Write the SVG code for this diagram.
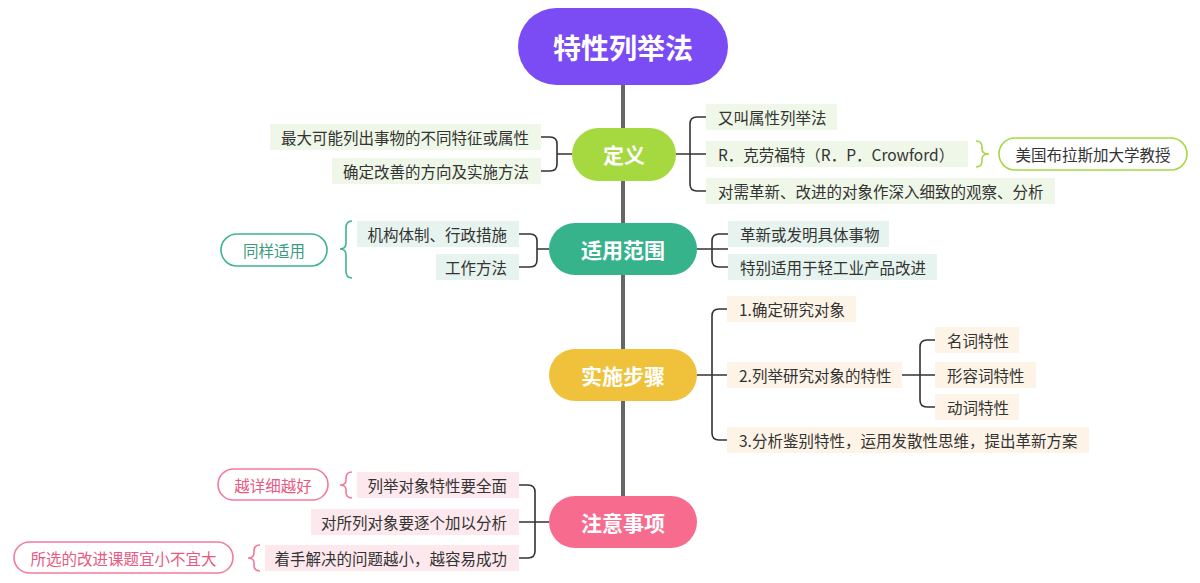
<svg xmlns="http://www.w3.org/2000/svg" width="1200" height="583" viewBox="0 0 1200 583">
<style>
text{font-family:"Noto Sans CJK SC","Noto Sans",sans-serif;}
.t{font-size:15.5px;fill:#333;dominant-baseline:central;}
.r{text-anchor:end;}
.n{font-size:21px;font-weight:bold;fill:#fff;text-anchor:middle;dominant-baseline:central;}
.c{fill:none;stroke:#333;stroke-width:1.6;}
.g{fill:#eff7e8;}
.tl{fill:#e6f3ee;}
.y{fill:#fdf4e7;}
.p{fill:#fde8ee;}
</style>
<rect width="1200" height="583" fill="#fff"/>
<g id="connectors">
<path d="M623,85 V522" stroke="#666" stroke-width="4" fill="none"/>
<path class="c" d="M541,137 H550 Q557,137 557,144 V164 Q557,171 550,171 H541 M557,154 H572"/>
<path class="c" d="M676,154 H706 M706,117 H697 Q690,117 690,124 V184 Q690,191 697,191 H706"/>
<path class="c" d="M519,234 H530 Q537,234 537,241 V260 Q537,267 530,267 H519 M537,249 H549"/>
<path class="c" d="M697,249 H728 M728,234 H719 Q712,234 712,241 V260 Q712,267 719,267 H728"/>
<path class="c" d="M697,375 H727 M727,309 H719 Q712,309 712,316 V433 Q712,440 719,440 H727"/>
<path class="c" d="M902,375 H935 M935,340 H927 Q920,340 920,347 V400 Q920,407 927,407 H935"/>
<path class="c" d="M519,485 H528 Q535,485 535,492 V551 Q535,558 528,558 H519 M519,522 H549"/>
<path fill="none" stroke="#a6d846" stroke-width="1.6" d="M976,141 Q982,141 982,147 V149 Q982,154 989,154 Q982,154 982,159 V161 Q982,167 976,167"/>
<path fill="none" stroke="#3cb58e" stroke-width="1.6" d="M352,221 Q346,221 346,228 V243 Q346,249 340,249 Q346,249 346,255 V271 Q346,278 352,278"/>
<path fill="none" stroke="#f37b9a" stroke-width="1.6" d="M352,472 Q346,472 346,478 V480 Q346,485 340,485 Q346,485 346,490 V492 Q346,498 352,498"/>
<path fill="none" stroke="#f37b9a" stroke-width="1.6" d="M260,545 Q254,545 254,551 V553 Q254,558 248,558 Q254,558 254,563 V565 Q254,571 260,571"/>
</g>
<g id="root">
<rect x="518" y="8" width="210" height="77" rx="38.5" fill="#7b4cf3"/>
<text x="623" y="47" class="n" style="font-size:28px">特性列举法</text>
</g>
<g id="dingyi">
<rect x="572" y="128" width="104" height="53" rx="26.5" fill="#a6d83f"/>
<text x="624" y="154" class="n">定义</text>
</g>
<g id="dy-l1"><rect x="270" y="124" width="271" height="26" class="g"/><text x="529" y="137" class="t r">最大可能列出事物的不同特征或属性</text></g>
<g id="dy-l2"><rect x="332" y="158" width="209" height="26" class="g"/><text x="529" y="171" class="t r">确定改善的方向及实施方法</text></g>
<g id="dy-r1"><rect x="706" y="104" width="131" height="26" class="g"/><text x="718" y="117" class="t">又叫属性列举法</text></g>
<g id="dy-r2"><rect x="706" y="141" width="262" height="26" class="g"/><text x="718" y="154" class="t">R．克劳福特（R．P．Crowford）</text></g>
<g id="dy-r3"><rect x="706" y="178" width="349" height="26" class="g"/><text x="718" y="191" class="t">对需革新、改进的对象作深入细致的观察、分析</text></g>
<g id="dy-note"><rect x="999" y="138" width="188" height="32" rx="16" fill="#fff" stroke="#a6d846" stroke-width="1.6"/><text x="1093" y="154" class="t" text-anchor="middle">美国布拉斯加大学教授</text></g>
<g id="fanwei">
<rect x="549" y="223" width="148" height="52" rx="26" fill="#36b38b"/>
<text x="623" y="249" class="n">适用范围</text>
</g>
<g id="fw-l1"><rect x="357" y="221" width="162" height="26" class="tl"/><text x="507" y="234" class="t r">机构体制、行政措施</text></g>
<g id="fw-l2"><rect x="436" y="254" width="83" height="26" class="tl"/><text x="507" y="267" class="t r">工作方法</text></g>
<g id="fw-note"><rect x="221" y="234" width="106" height="32" rx="16" fill="#fff" stroke="#3cb58e" stroke-width="1.6"/><text x="274" y="250" class="t" text-anchor="middle" style="fill:#3a9c7c">同样适用</text></g>
<g id="fw-r1"><rect x="728" y="221" width="161" height="26" class="tl"/><text x="740" y="234" class="t">革新或发明具体事物</text></g>
<g id="fw-r2"><rect x="728" y="254" width="209" height="26" class="tl"/><text x="740" y="267" class="t">特别适用于轻工业产品改进</text></g>
<g id="buzhou">
<rect x="549" y="349" width="148" height="52" rx="26" fill="#f0c23c"/>
<text x="623" y="375" class="n">实施步骤</text>
</g>
<g id="bz-1"><rect x="727" y="296" width="129" height="26" class="y"/><text x="739" y="309" class="t">1.确定研究对象</text></g>
<g id="bz-2"><rect x="727" y="362" width="175" height="26" class="y"/><text x="739" y="375" class="t">2.列举研究对象的特性</text></g>
<g id="bz-3"><rect x="727" y="427" width="362" height="26" class="y"/><text x="739" y="440" class="t">3.分析鉴别特性，运用发散性思维，提出革新方案</text></g>
<g id="bz-2a"><rect x="935" y="327" width="84" height="26" class="y"/><text x="947" y="340" class="t">名词特性</text></g>
<g id="bz-2b"><rect x="935" y="362" width="101" height="26" class="y"/><text x="947" y="375" class="t">形容词特性</text></g>
<g id="bz-2c"><rect x="935" y="394" width="84" height="26" class="y"/><text x="947" y="407" class="t">动词特性</text></g>
<g id="zhuyi">
<rect x="549" y="496" width="148" height="52" rx="26" fill="#f76b8f"/>
<text x="623" y="522" class="n">注意事项</text>
</g>
<g id="zy-1"><rect x="357" y="472" width="162" height="26" class="p"/><text x="507" y="485" class="t r">列举对象特性要全面</text></g>
<g id="zy-2"><rect x="311" y="509" width="208" height="26" class="p"/><text x="507" y="522" class="t r">对所列对象要逐个加以分析</text></g>
<g id="zy-3"><rect x="265" y="545" width="254" height="26" class="p"/><text x="507" y="558" class="t r">着手解决的问题越小，越容易成功</text></g>
<g id="zy-n1"><rect x="218" y="469" width="110" height="31" rx="15.5" fill="#fff" stroke="#f37b9a" stroke-width="1.6"/><text x="273" y="485" class="t" text-anchor="middle" style="fill:#e9587f">越详细越好</text></g>
<g id="zy-n2"><rect x="14" y="542" width="219" height="31" rx="15.5" fill="#fff" stroke="#f37b9a" stroke-width="1.6"/><text x="123.5" y="558" class="t" text-anchor="middle" style="fill:#e9587f">所选的改进课题宜小不宜大</text></g>
</svg>
